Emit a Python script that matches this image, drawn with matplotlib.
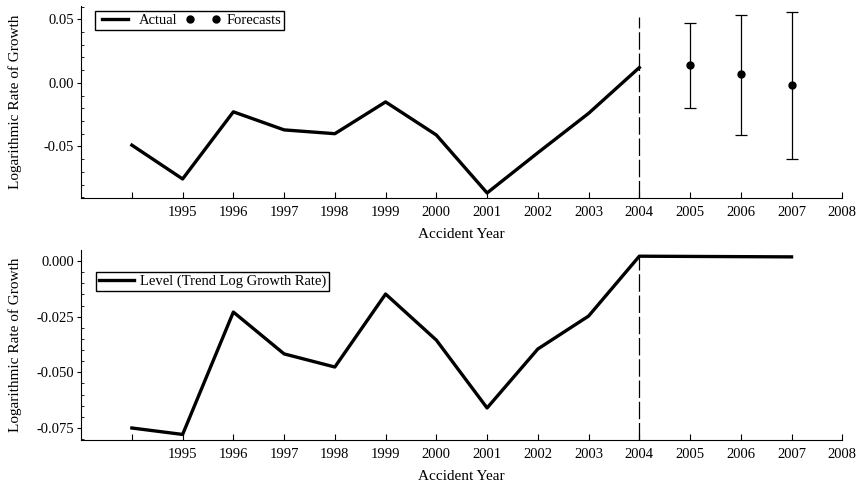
import matplotlib.pyplot as plt
from matplotlib.ticker import AutoMinorLocator

plt.rcParams['font.family'] = ['Liberation Serif', 'DejaVu Serif']
plt.rcParams['font.size'] = 10.5

# accident years and log growth rates
years = [1994, 1995, 1996, 1997, 1998, 1999, 2000, 2001, 2002, 2003, 2004]
actual = [-0.049, -0.0756, -0.0228, -0.037, -0.040, -0.015, -0.041, -0.0866, -0.055, -0.024, 0.012]

fc_years = [2005, 2006, 2007]
forecast = [0.014, 0.007, -0.002]
fc_upper = [0.047, 0.0535, 0.056]
fc_lower = [-0.020, -0.041, -0.060]

level_years = [1994, 1995, 1996, 1997, 1998, 1999, 2000, 2001, 2002, 2003, 2004, 2005, 2006, 2007]
level = [-0.075, -0.0779, -0.0229, -0.0417, -0.0476, -0.0148, -0.0355, -0.066, -0.0395, -0.0247,
         0.0022, 0.0021, 0.0020, 0.0019]

tick_years = list(range(1994, 2009))
tick_labels = [''] + [str(y) for y in range(1995, 2009)]

fig = plt.figure(figsize=(8.63, 4.83), dpi=100)
ax1 = fig.add_axes([0.094, 0.590, 0.882, 0.398])
ax2 = fig.add_axes([0.094, 0.089, 0.882, 0.393])


def style_axis(ax):
    for side in ('top', 'right'):
        ax.spines[side].set_visible(False)
    ax.set_xlim(1993, 2008)
    ax.set_xticks(tick_years)
    ax.set_xticklabels(tick_labels)
    ax.tick_params(axis='x', direction='in', length=4, width=0.8, pad=6)
    ax.tick_params(axis='y', direction='out', length=3, width=0.8, pad=2)
    ax.yaxis.set_minor_locator(AutoMinorLocator(5))
    ax.tick_params(axis='y', which='minor', direction='in', length=2, width=0.6)
    ax.set_xlabel('Accident Year', fontsize=11, labelpad=6)
    ax.set_ylabel('Logarithmic Rate of Growth', fontsize=11)
    ax.yaxis.set_label_coords(-0.078, 0.5)


# top panel: actual growth plus forecasts with intervals
ax1.plot(years, actual, color='black', lw=2.4, label='Actual')
err = [[f - lo for f, lo in zip(forecast, fc_lower)],
       [hi - f for f, hi in zip(forecast, fc_upper)]]
ax1.errorbar(fc_years, forecast, yerr=err, fmt='none', ecolor='black', elinewidth=0.9,
             capsize=4, capthick=0.9)
ax1.plot(fc_years, forecast, 'o', color='black', ms=5, label='Forecasts')
ax1.axvline(2004, ymax=0.94, color='black', lw=0.9, dashes=(14, 3))
ax1.set_ylim(-0.0906, 0.0606)
ax1.set_yticks([-0.05, 0.0, 0.05])
ax1.set_yticklabels(['-0.05', '0.00', '0.05'])
style_axis(ax1)
ax1.legend(loc='upper left', bbox_to_anchor=(0.014, 0.99), ncol=2, numpoints=2, frameon=True,
           fancybox=False, edgecolor='black', framealpha=1, borderpad=0.2, handlelength=2.4,
           columnspacing=0.6, handletextpad=0.4, borderaxespad=0.2, fontsize=10.5)

# bottom panel: trend level
ax2.plot(level_years, level, color='black', lw=2.4, label='Level (Trend Log Growth Rate)')
ax2.axvline(2004, ymax=0.97, color='black', lw=0.9, dashes=(14, 3))
ax2.set_ylim(-0.0804, 0.0049)
ax2.set_yticks([-0.075, -0.05, -0.025, 0.0])
ax2.set_yticklabels(['-0.075', '-0.050', '-0.025', '0.000'])
style_axis(ax2)
ax2.legend(loc='upper left', bbox_to_anchor=(0.016, 0.9), frameon=True, fancybox=False,
           edgecolor='black', framealpha=1, borderpad=0.2, handlelength=2.4,
           handletextpad=0.4, borderaxespad=0.2, fontsize=10.5)

fig.savefig('out.png', dpi=100)
